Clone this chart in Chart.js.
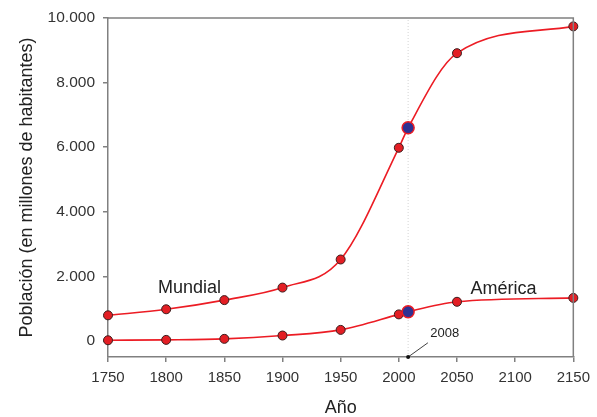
<!DOCTYPE html>
<html>
<head>
<meta charset="utf-8">
<script src="https://cdn.jsdelivr.net/npm/chart.js@4"></script>
<style>
  html, body { margin: 0; background: #fff; }
</style>
</head>
<body>
<canvas id="chart" width="597" height="417"></canvas>
<script>
"use strict";

const years = [1750, 1800, 1850, 1900, 1950, 2000, 2008, 2050, 2150];
const mundial = [791, 978, 1262, 1650, 2520, 5980, 6600, 8910, 9740];
const america = [18, 30, 62, 165, 340, 820, 900, 1210, 1330];
const xTicks = [1750, 1800, 1850, 1900, 1950, 2000, 2050, 2100, 2150];
const yTicks = [0, 2000, 4000, 6000, 8000, 10000];
const highlightYear = 2008;

// series names, placed in data units
const seriesLabels = [
  { text: "Mundial", x: 1820, y: 1650 },
  { text: "América", x: 2090, y: 1620 },
];
// "2008" callout: text anchor and end of the leader line, in data units
const callout = { text: "2008", year: 2008, textX: 2027, textY: 220, lineX: 2025, lineY: -60 };

const FONT = "'Liberation Sans', Arial, sans-serif";
const RED = "#ec1c24";
const AXIS = "#808080";

function points(values) {
  return years.map((x, i) => ({ x, y: values[i] }));
}

function fmt(v) {
  return String(v).replace(/\B(?=(\d{3})+(?!\d))/g, ".");
}

const isHi = (ctx) => ctx.raw && ctx.raw.x === highlightYear;

function series(values) {
  return {
    data: points(values),
    borderColor: RED,
    borderWidth: 1.6,
    cubicInterpolationMode: "monotone",
    clip: false,
    pointRadius: (ctx) => (isHi(ctx) ? 6 : 4.5),
    pointBackgroundColor: (ctx) => (isHi(ctx) ? "#2e3192" : "#e31e24"),
    pointBorderColor: (ctx) => (isHi(ctx) ? "#ec1c24" : "#3b1d1d"),
    pointBorderWidth: (ctx) => (isHi(ctx) ? 1.5 : 1),
  };
}

const extras = {
  id: "extras",
  beforeDatasetsDraw(chart) {
    const { ctx, chartArea: a, scales: { x } } = chart;
    const px = x.getPixelForValue(highlightYear);
    ctx.save();
    ctx.strokeStyle = "#d4d4d4";
    ctx.lineWidth = 1;
    ctx.setLineDash([1, 2]);
    ctx.beginPath();
    ctx.moveTo(px, a.bottom);
    ctx.lineTo(px, a.top);
    ctx.stroke();
    ctx.restore();
  },
  afterDraw(chart) {
    const { ctx, chartArea: a, scales: { x, y } } = chart;
    ctx.save();
    // box
    ctx.strokeStyle = AXIS;
    ctx.lineWidth = 1.5;
    ctx.beginPath();
    ctx.moveTo(a.left, a.top);
    ctx.lineTo(a.right, a.top);
    ctx.lineTo(a.right, a.bottom);
    ctx.stroke();

    ctx.fillStyle = "#222";
    ctx.font = "18px " + FONT;
    ctx.textAlign = "center";
    ctx.textBaseline = "middle";
    for (const l of seriesLabels) {
      ctx.fillText(l.text, x.getPixelForValue(l.x), y.getPixelForValue(l.y));
    }

    // callout
    const cx = x.getPixelForValue(callout.year);
    ctx.strokeStyle = "#111";
    ctx.lineWidth = 0.8;
    ctx.beginPath();
    ctx.moveTo(cx, a.bottom);
    ctx.lineTo(x.getPixelForValue(callout.lineX), y.getPixelForValue(callout.lineY));
    ctx.stroke();
    ctx.fillStyle = "#111";
    ctx.beginPath();
    ctx.arc(cx, a.bottom, 2, 0, Math.PI * 2);
    ctx.fill();
    ctx.fillStyle = "#222";
    ctx.font = "13px " + FONT;
    ctx.textAlign = "left";
    ctx.fillText(callout.text, x.getPixelForValue(callout.textX), y.getPixelForValue(callout.textY));
    ctx.restore();
  },
};

new Chart(document.getElementById("chart"), {
  type: "line",
  data: { datasets: [series(mundial), series(america)] },
  options: {
    responsive: false,
    animation: false,
    layout: { padding: { top: 18, right: 20, left: 0, bottom: 0 } },
    plugins: { legend: { display: false }, tooltip: { enabled: false } },
    scales: {
      x: {
        type: "linear",
        min: 1750,
        max: 2150,
        afterBuildTicks: (s) => { s.ticks = xTicks.map((value) => ({ value })); },
        afterFit: (s) => { s.height = 60; },
        grid: { drawOnChartArea: false, drawTicks: true, tickLength: 5, color: AXIS, lineWidth: 1.5 },
        border: { display: true, color: AXIS, width: 1.5 },
        ticks: { font: { size: 15, family: FONT }, color: "#333", padding: 7, maxRotation: 0,
                 callback: (v) => String(v) },
        title: {
          display: true,
          text: "Año",
          font: { size: 18, family: FONT, lineHeight: 1 },
          color: "#222",
          padding: 0,
        },
      },
      y: {
        min: -500,
        max: 10000,
        afterBuildTicks: (s) => { s.ticks = yTicks.map((value) => ({ value })); },
        afterFit: (s) => { s.width = 108; },
        grid: { drawOnChartArea: false, drawTicks: true, tickLength: 5, color: AXIS, lineWidth: 1.5 },
        border: { display: true, color: AXIS, width: 1.5 },
        ticks: { font: { size: 15.5, family: FONT }, color: "#333", padding: 8, callback: (v) => fmt(v) },
        title: {
          display: true,
          text: "Población (en millones de habitantes)",
          font: { size: 18, family: FONT },
          color: "#222",
          padding: { top: 16, bottom: 0 },
        },
      },
    },
  },
  plugins: [extras],
});
</script>
</body>
</html>
